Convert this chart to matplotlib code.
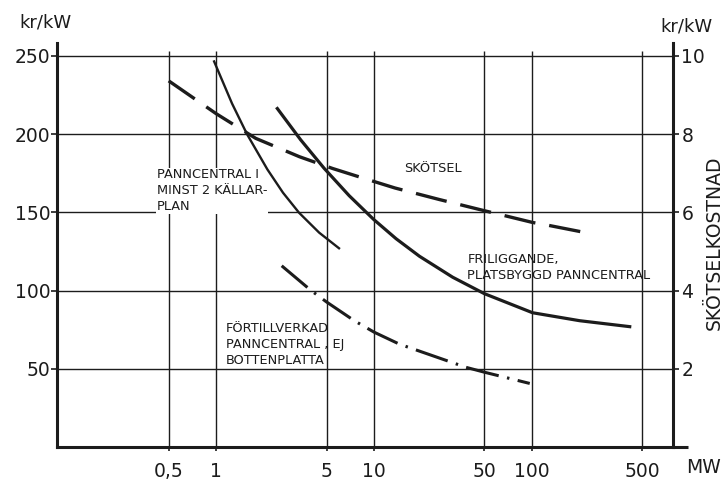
import matplotlib

matplotlib.use("Agg")
import matplotlib.pyplot as plt  # noqa: E402

# axis ticks
x_ticks = [0.5, 1, 5, 10, 50, 100, 500]
x_labels = ["0,5", "1", "5", "10", "50", "100", "500"]
y_ticks = [50, 100, 150, 200, 250]
right_ticks = [2, 4, 6, 8, 10]

# panncentral i minst 2 källarplan (kr/kW vs MW)
basement_mw = [0.97, 1.26, 1.57, 2.11, 2.65, 3.35, 4.49, 6.0]
basement_cost = [246.4, 219.5, 199.8, 177.4, 162.5, 149.7, 137, 127]

# friliggande, platsbyggd panncentral
detached_mw = [2.44, 3.43, 4.83, 6.96, 9.93, 13.8, 19.4, 31.5, 50, 101, 201, 417]
detached_cost = [216.3, 196.3, 178.1, 160.6, 145.5, 133.1, 121.9, 108.5, 98,
                 85.8, 80.7, 76.9]

# förtillverkad panncentral, ej bottenplatta
prefab_mw = [2.6, 3.98, 5, 7.5, 10, 14.5, 38.3, 50, 97]
prefab_cost = [115.8, 100.1, 92.7, 80.7, 73.4, 65.7, 50.9, 47.8, 40.6]

# skötselkostnad (right axis, kr/kW)
upkeep_mw = [0.5, 1.0, 1.78, 3.37, 5.46, 8.9, 13.6, 25.7, 48.9, 101, 126, 232]
upkeep_cost = [9.36, 8.52, 7.89, 7.42, 7.12, 6.85, 6.62, 6.33, 6.05, 5.74,
               5.67, 5.46]

INK = "#1c1c1c"
X_LO, X_HI = 0.098, 784
Y_TOP = 258

fig = plt.figure(figsize=(7.27, 4.8), dpi=100)
ax = fig.add_axes([0.0784, 0.0688, 0.8473, 0.841])
ax.set_xscale("log")
ax.set_xlim(X_LO, X_HI)
ax.set_ylim(0, Y_TOP)

# grid
ax.hlines(y_ticks, X_LO, X_HI, color=INK, lw=1.0, zorder=1)
ax.vlines(x_ticks, 0, 253, color=INK, lw=1.0, zorder=1)

# curves
ax.plot(basement_mw, basement_cost, color=INK, lw=1.7, zorder=3)
ax.plot(detached_mw, detached_cost, color=INK, lw=2.3, zorder=3)
ax.plot(prefab_mw, prefab_cost, color=INK, lw=2.2, zorder=3,
        linestyle=(0, (11, 2.8, 0.8, 2.8)))

ax2 = ax.twinx()
ax2.set_ylim(0, Y_TOP / 25)
ax2.plot(upkeep_mw, upkeep_cost, color=INK, lw=2.4, zorder=3,
         linestyle=(0, (9.5, 4.2)))

# spines
for a in (ax, ax2):
    a.spines["top"].set_visible(False)
ax.spines["right"].set_visible(False)
ax2.spines["left"].set_visible(False)
ax2.spines["bottom"].set_visible(False)
ax.spines["left"].set_linewidth(2.2)
ax.spines["bottom"].set_linewidth(2.2)
ax2.spines["right"].set_linewidth(2.2)
for s in ("left", "bottom"):
    ax.spines[s].set_color(INK)
ax2.spines["right"].set_color(INK)
# the base line runs a little past the right axis
ax.plot([X_HI, 980], [0, 0], color=INK, lw=2.2, clip_on=False,
        solid_capstyle="butt")

# ticks
ax.set_xticks(x_ticks)
ax.set_xticklabels(x_labels)
ax.minorticks_off()
ax.set_yticks(y_ticks)
ax2.set_yticks(right_ticks)
ax.tick_params(axis="x", direction="out", length=3, width=1.2, pad=8,
               labelsize=13.5, colors=INK)
ax.tick_params(axis="y", direction="out", length=4, width=1.2, pad=0.5,
               labelsize=13.5, colors=INK)
ax2.tick_params(axis="y", direction="out", length=4, width=1.2, pad=2,
                labelsize=13.5, colors=INK)

# axis captions
fig.text(0.063, 0.954, "kr/kW", fontsize=13, ha="center", va="center",
         color=INK)
fig.text(0.944, 0.944, "kr/kW", fontsize=13, ha="center", va="center",
         color=INK)
fig.text(0.967, 0.027, "MW", fontsize=13.5, ha="center", va="center",
         color=INK)
fig.text(0.983, 0.494, "SKÖTSELKOSTNAD", fontsize=13.5, rotation=90,
         ha="center", va="center", color=INK)

# curve labels
note = dict(fontsize=9.3, color=INK, ha="left", va="top", linespacing=1.3)
ax.text(0.42, 178, "PANNCENTRAL I\nMINST 2 KÄLLAR-\nPLAN", zorder=2,
        bbox=dict(facecolor="white", edgecolor="none", pad=0.5), **note)
ax.text(15.6, 182, "SKÖTSEL", zorder=4, **note)
ax.text(39, 124, "FRILIGGANDE,\nPLATSBYGGD PANNCENTRAL", zorder=4, **note)
ax.text(1.15, 80, "FÖRTILLVERKAD\nPANNCENTRAL , EJ\nBOTTENPLATTA", zorder=4,
        **note)

fig.savefig("out.png", dpi=100, facecolor="white")
plt.close(fig)
